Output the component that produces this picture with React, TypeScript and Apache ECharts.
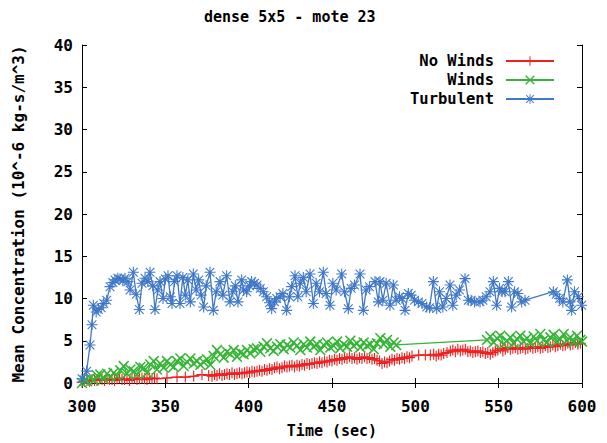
import React, { useEffect, useRef } from "react";
import * as echarts from "echarts";

const titleText = "dense 5x5 - mote 23";
const xName = "Time (sec)";
const yName = "Mean Concentration (10^-6 kg-s/m^3)";
const seriesNames = ["No Winds", "Winds", "Turbulent"];
const seriesColors = ["#f02020", "#35b535", "#3f78c8"];

const noWindsData: number[][] = [
  [300, 0.1], [301.5, 0.2], [303, 0.3], [304.5, 0.2], [306, 0.4], [307.5, 0.3], [309, 0.3], [310.5, 0.5],
  [312, 0.4], [313.5, 0.3], [315, 0.5], [316.5, 0.4], [318, 0.4], [319.5, 0.3], [321, 0.5], [322.5, 0.6],
  [324, 0.4], [325.5, 0.4], [327, 0.5], [328.5, 0.3], [330, 0.5], [331.5, 0.6], [333, 0.4], [334.5, 0.5],
  [336, 0.6], [337.5, 0.5], [339, 0.4], [340.5, 0.6], [342, 0.5], [343.5, 0.6], [345, 0.5],
  [351, 0.6], [357, 0.7], [362, 0.7], [367, 0.8], [372, 1.0], [376, 0.9],
  [378, 0.8], [379.5, 1.0], [381, 0.9], [382.5, 1.1], [384, 0.9], [385.5, 1.0], [387, 1.1], [388.5, 1.0],
  [390, 1.2], [391.5, 1.0], [393, 1.1], [394.5, 1.2], [396, 1.1], [397.5, 1.2], [399, 1.3], [400.5, 1.2],
  [402, 1.4], [403.5, 1.3], [405, 1.4], [406.5, 1.5], [408, 1.4], [409.5, 1.6], [411, 1.5], [412.5, 1.7],
  [414, 1.6], [415.5, 1.8], [417, 1.9], [418.5, 1.7], [420, 1.8], [421.5, 2.0], [423, 1.9], [424.5, 2.0],
  [426, 2.1], [427.5, 1.9], [429, 2.1], [430.5, 2.0], [432, 2.2], [433.5, 2.1], [435, 2.3], [436.5, 2.2],
  [438, 2.3], [439.5, 2.4], [441, 2.3], [442.5, 2.5], [444, 2.4], [445.5, 2.6], [447, 2.5], [448.5, 2.7],
  [450, 2.6], [451.5, 2.8], [453, 2.7], [454.5, 2.9], [456, 2.8], [457.5, 3.0], [459, 2.9], [460.5, 3.1],
  [462, 2.9], [463.5, 3.0], [465, 2.8], [466.5, 3.0], [468, 2.9], [469.5, 3.1], [471, 2.9], [472.5, 3.0],
  [474, 2.8], [475.5, 2.9], [477, 2.7], [478.5, 2.6], [480, 2.3], [481.5, 2.5], [483, 2.4], [484.5, 2.6],
  [486, 2.8], [487.5, 2.7], [489, 2.9], [490.5, 2.8], [492, 3.0], [493.5, 2.9], [495, 3.1], [496.5, 3.0],
  [498, 3.2], [502, 3.3], [506, 3.3], [509, 3.3], [511, 3.4], [512.5, 3.2], [514, 3.4], [515.5, 3.3],
  [517, 3.5], [519, 3.6], [521, 3.8], [522.5, 3.9], [524, 3.7], [525.5, 4.0], [527, 3.8], [528.5, 3.9],
  [530, 4.0], [531.5, 3.7], [533, 3.8], [534.5, 3.6], [536, 3.7], [537.5, 3.8], [539, 3.6], [540.5, 3.7],
  [542, 3.5], [543.5, 3.6], [545, 3.4], [546.5, 3.6], [548, 3.8], [549.5, 3.9], [551, 4.1], [552.5, 3.8],
  [554, 4.0], [555.5, 4.2], [557, 4.0], [558.5, 4.1], [560, 4.2], [561.5, 4.0], [563, 4.1], [564.5, 4.2],
  [566, 4.0], [567.5, 4.1], [569, 4.3], [570.5, 4.1], [572, 4.2], [573.5, 4.3], [575, 4.1], [576.5, 4.2],
  [578, 4.4], [579.5, 4.2], [581, 4.3], [582.5, 4.5], [584, 4.3], [585.5, 4.4], [587, 4.6], [588.5, 4.4],
  [590, 4.5], [591.5, 4.7], [593, 4.5], [594.5, 4.6], [596, 4.8], [597.5, 4.6], [599, 4.7],
];

const windsData: number[][] = [
  [300, 0.0], [301.5, 0.3], [303, 0.2], [305, 0.6], [307, 0.3], [309, 0.9], [311, 1.0], [313, 0.5],
  [315, 1.1], [317, 0.7], [319, 1.2], [321, 0.8], [323, 1.5], [325, 2.0], [327, 1.1], [329, 1.6],
  [331, 1.4], [333, 1.0], [335, 1.9], [337, 1.8], [339, 1.2], [341, 2.2], [343, 2.6], [345, 1.6],
  [347, 2.3], [349, 1.8], [351, 2.6], [353, 2.15], [355, 1.9], [357, 2.6], [359, 2.9], [361, 2.0],
  [363, 2.5], [365, 2.9], [367, 2.3], [369, 2.6], [371, 2.15], [373, 2.5], [375, 2.8], [377, 2.15],
  [379, 3.2], [381, 3.9], [383, 3.4], [385, 3.0], [387, 3.7], [389, 3.4], [391, 3.9], [393, 3.1],
  [395, 3.6], [397, 3.4], [399, 3.9], [401, 3.5], [403, 4.0], [405, 4.1], [407, 3.7], [409, 4.3],
  [411, 4.7], [413, 4.1], [415, 3.8], [417, 4.3], [419, 4.6], [421, 4.0], [423, 4.5], [425, 4.2],
  [427, 4.8], [429, 4.4], [431, 3.9], [433, 4.6], [435, 4.2], [437, 4.9], [439, 4.3], [441, 4.6],
  [443, 3.9], [445, 4.5], [447, 4.8], [449, 4.2], [451, 4.4], [453, 4.9], [455, 4.1], [457, 4.6],
  [459, 4.3], [461, 5.0], [463, 4.4], [465, 4.7], [467, 4.2], [469, 4.8], [471, 4.4], [473, 4.6],
  [475, 4.0], [477, 4.7], [479, 5.3], [481, 4.6], [483, 5.1], [485, 4.3], [487, 4.8], [488.5, 4.5],
  [543, 5.1], [545, 5.5], [547, 4.8], [549, 5.3], [551, 5.6], [553, 4.6], [555, 5.0], [557, 5.4],
  [559, 4.7], [561, 5.2], [563, 5.6], [565, 4.9], [567, 5.3], [569, 4.7], [571, 5.5], [573, 5.0],
  [575, 5.8], [577, 5.1], [579, 4.8], [581, 5.4], [583, 5.7], [585, 4.9], [587, 5.2], [589, 5.8],
  [591, 5.0], [593, 5.4], [595, 4.8], [597, 5.6], [599, 5.1], [600, 4.9],
];

const turbulentData: number[][] = [
  [300, 0.5], [302.8, 1.4], [304.8, 4.5], [306, 6.9], [306.8, 9.2], [308.5, 8.4], [309.8, 8.7], [311.5, 8.9],
  [313, 9.4], [314.8, 9.8], [316.8, 11.4], [318.5, 11.9], [319.8, 12.2], [321.5, 12.4], [322.8, 12.3], [324.5, 12.1],
  [325.8, 12.4], [327.5, 12.0], [328.8, 11.0], [330.8, 13.1], [332.5, 10.5], [334.4, 8.7], [336, 11.8], [337.8, 12.4],
  [339.5, 12.0], [340.8, 13.1], [342.5, 11.5], [343.8, 8.7], [345.5, 11.0], [346.8, 12.0], [348.6, 10.0], [350, 12.3],
  [351.6, 12.7], [353, 10.2], [354, 9.4], [355.5, 12.0], [357, 12.7], [358.8, 9.4], [360.5, 12.5], [362, 10.4],
  [363.5, 12.2], [365, 9.6], [366.8, 12.9], [368.5, 11.0], [370, 12.2], [371.5, 10.4], [373, 9.0], [374.5, 11.5],
  [376.8, 13.1], [378.8, 8.6], [380.5, 10.8], [382.8, 12.0], [384.5, 10.4], [386.8, 12.7], [388.8, 9.6], [390.5, 10.8],
  [392, 11.5], [393.6, 9.6], [395.8, 12.2], [397, 11.0], [398.8, 10.8], [400.5, 11.5], [401.8, 12.0], [403.5, 11.8],
  [405, 11.6], [407, 11.2], [408.8, 10.8], [410.8, 10.2], [412.5, 9.5], [413.8, 8.8], [415.5, 9.6], [416.8, 10.0],
  [418.8, 10.2], [420.5, 10.6], [422.8, 8.6], [424.5, 10.2], [425.8, 11.4], [427.8, 12.7], [429.5, 10.2], [431, 11.8],
  [432.8, 12.5], [434.5, 10.8], [436.8, 12.9], [438.8, 9.4], [440.5, 11.8], [442.5, 10.8], [444.8, 13.1], [446.5, 10.6],
  [448.8, 9.2], [450.5, 11.8], [452.5, 11.0], [455.8, 12.9], [457.5, 10.8], [459.8, 8.8], [461.5, 11.2], [463.5, 11.6],
  [466.8, 12.9], [468.8, 8.6], [470.5, 11.0], [472.5, 11.4], [475.8, 12.0], [477.8, 9.6], [478.8, 12.0], [480.5, 9.8],
  [482.5, 11.8], [484.8, 9.2], [486.8, 11.6], [488.5, 9.8], [490.5, 10.2], [492, 10.0], [493.8, 8.6], [495.8, 10.6],
  [497.5, 10.4], [499.5, 9.8], [501.8, 9.6], [504, 9.4], [506.8, 9.0], [508.5, 8.9], [510.8, 12.0], [512.8, 8.8],
  [514.5, 10.8], [516.5, 9.0], [518.5, 10.0], [520.8, 11.6], [522.5, 9.2], [524.5, 10.4], [526.5, 11.0], [529.8, 12.35],
  [531.8, 9.8], [533.5, 9.8], [535.5, 9.6], [538.8, 9.6], [540.5, 9.8], [542.5, 10.2], [544.8, 10.8], [546.8, 12.0],
  [548.8, 9.2], [550.5, 11.2], [552, 10.8], [553.8, 10.8], [555.8, 12.0], [557.8, 9.0], [559.5, 10.8], [561.5, 10.6],
  [563.8, 9.6], [565.8, 9.8], [582.8, 10.8], [584.5, 10.5], [586.5, 10.0], [588.5, 9.6], [591.2, 12.2], [592.8, 9.6],
  [593.8, 8.6], [595.5, 10.8], [597.8, 10.2], [599.8, 9.2],
];

const allData = [noWindsData, windsData, turbulentData];

const PLUS = "path://M4.5,0h1v10h-1z M0,4.5h10v1h-10z";
const CROSS = "path://M0,1 L1,0 L10,9 L9,10 Z M9,0 L10,1 L1,10 L0,9 Z";
const STAR =
  "path://M4.5,0h1v10h-1z M0,4.5h10v1h-10z M0.7,1.4 L1.4,0.7 L9.3,8.6 L8.6,9.3 Z M8.6,0.7 L9.3,1.4 L1.4,9.3 L0.7,8.6 Z";
const symbols = [PLUS, CROSS, STAR];

const FONT = "DejaVu Sans Mono";

export default function App() {
  const ref = useRef<HTMLDivElement>(null);
  useEffect(() => {
    if (!ref.current) return;
    const chart = echarts.init(ref.current, null, { renderer: "svg" });
    const axisLine = { lineStyle: { color: "#000", width: 1 } };
    const tick = { show: true, inside: true, length: 5, lineStyle: { color: "#000" } };
    chart.setOption({
      animation: false,
      backgroundColor: "#fff",
      title: {
        text: titleText,
        left: 199,
        top: 4,
        textStyle: { fontFamily: FONT, fontWeight: "bold", fontSize: 15, color: "#000" },
      },
      legend: {
        orient: "vertical",
        right: 47,
        top: 48,
        align: "right",
        itemWidth: 48,
        itemHeight: 12,
        itemGap: 3,
        data: seriesNames,
        textStyle: {
          fontFamily: FONT,
          fontWeight: "bold",
          fontSize: 15.5,
          lineHeight: 15,
          color: "#000",
          padding: [0, 7, 0, 0],
        },
      },
      grid: { left: 82, right: 25, top: 45, bottom: 58 },
      xAxis: [
        {
          type: "value",
          min: 300,
          max: 600,
          interval: 50,
          name: xName,
          nameLocation: "middle",
          nameGap: 40,
          nameTextStyle: { fontFamily: FONT, fontWeight: "bold", fontSize: 15, color: "#000" },
          axisLine,
          axisTick: tick,
          axisLabel: { fontFamily: FONT, fontWeight: "bold", fontSize: 16, color: "#000", margin: 15 },
          splitLine: { show: false },
        },
        {
          type: "value",
          position: "top",
          min: 300,
          max: 600,
          interval: 50,
          axisLine,
          axisTick: tick,
          axisLabel: { show: false },
          splitLine: { show: false },
        },
      ],
      yAxis: [
        {
          type: "value",
          min: 0,
          max: 40,
          interval: 5,
          name: yName,
          nameLocation: "middle",
          nameGap: 56,
          nameTextStyle: { fontFamily: FONT, fontWeight: "bold", fontSize: 16, color: "#000" },
          axisLine: { show: true, ...axisLine },
          axisTick: tick,
          axisLabel: { fontFamily: FONT, fontWeight: "bold", fontSize: 16, color: "#000", margin: 9 },
          splitLine: { show: false },
        },
        {
          type: "value",
          position: "right",
          min: 0,
          max: 40,
          interval: 5,
          axisLine: { show: true, ...axisLine },
          axisTick: tick,
          axisLabel: { show: false },
          splitLine: { show: false },
        },
      ],
      series: seriesNames.map((name, i) => ({
        name,
        type: "line",
        xAxisIndex: 0,
        yAxisIndex: 0,
        data: allData[i],
        symbol: symbols[i],
        symbolSize: 11,
        showAllSymbol: true,
        lineStyle: { color: seriesColors[i], width: 1.3 },
        itemStyle: { color: seriesColors[i] },
        z: 2 + i,
      })),
    });
    return () => chart.dispose();
  }, []);
  return <div ref={ref} style={{ width: 607, height: 443, position: "absolute", left: 0, top: 0 }} />;
}
